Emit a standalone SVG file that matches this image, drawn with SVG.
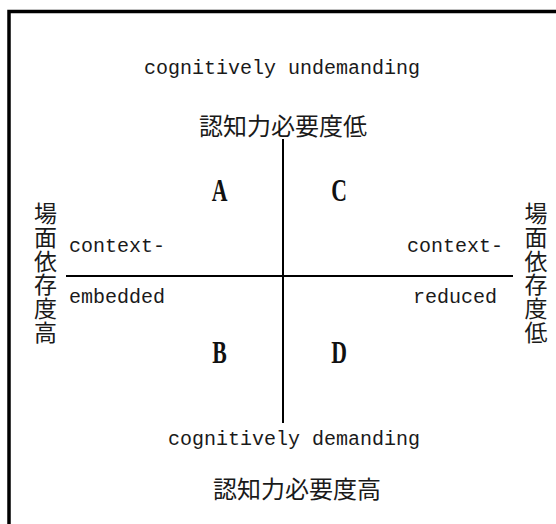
<svg xmlns="http://www.w3.org/2000/svg" width="556" height="524" viewBox="0 0 556 524">
<style>
.lat{font-family:"Liberation Mono","DejaVu Sans Mono",monospace;font-size:20px;fill:#1a1a1a}
.cjk{font-family:"Noto Sans CJK JP","Noto Sans CJK SC",sans-serif;font-size:24px;fill:#1a1a1a}
.vcjk{font-family:"Noto Sans CJK JP","Noto Sans CJK SC",sans-serif;font-size:23px;fill:#1a1a1a;text-anchor:middle}
.q{font-family:"Liberation Serif","DejaVu Serif",serif;font-size:32px;font-weight:bold;fill:#111;text-anchor:middle}
.ax{stroke:#000;stroke-width:2;fill:none}
</style>
<rect x="9" y="11.5" width="600" height="600" fill="#fff" stroke="#000" stroke-width="3.5"/>
<g id="connectors">
<line class="ax" x1="283" y1="139" x2="283" y2="423"/>
<line class="ax" x1="66" y1="276" x2="513" y2="276"/>
</g>
<g id="top-label">
<text class="lat" x="144" y="74">cognitively undemanding</text>
<text class="cjk" x="283" y="135" text-anchor="middle">認知力必要度低</text>
</g>
<g id="bottom-label">
<text class="lat" x="168" y="445">cognitively demanding</text>
<text class="cjk" x="297" y="498" text-anchor="middle">認知力必要度高</text>
</g>
<g id="left-label">
<text class="vcjk"><tspan x="45.5" y="222">場</tspan><tspan x="45.5" y="245.8">面</tspan><tspan x="45.5" y="269.6">依</tspan><tspan x="45.5" y="293.4">存</tspan><tspan x="45.5" y="317.2">度</tspan><tspan x="45.5" y="341">高</tspan></text>
<text class="lat" x="69" y="252">context-</text>
<text class="lat" x="69" y="303">embedded</text>
</g>
<g id="right-label">
<text class="vcjk"><tspan x="536" y="222">場</tspan><tspan x="536" y="245.8">面</tspan><tspan x="536" y="269.6">依</tspan><tspan x="536" y="293.4">存</tspan><tspan x="536" y="317.2">度</tspan><tspan x="536" y="341">低</tspan></text>
<text class="lat" x="407" y="252">context-</text>
<text class="lat" x="413" y="303">reduced</text>
</g>
<g id="quadrant-A"><text class="q" transform="translate(219.5,201) scale(0.68,1)">A</text></g>
<g id="quadrant-C"><text class="q" transform="translate(339,201) scale(0.68,1)">C</text></g>
<g id="quadrant-B"><text class="q" transform="translate(219.5,363) scale(0.68,1)">B</text></g>
<g id="quadrant-D"><text class="q" transform="translate(339,363) scale(0.68,1)">D</text></g>
</svg>
